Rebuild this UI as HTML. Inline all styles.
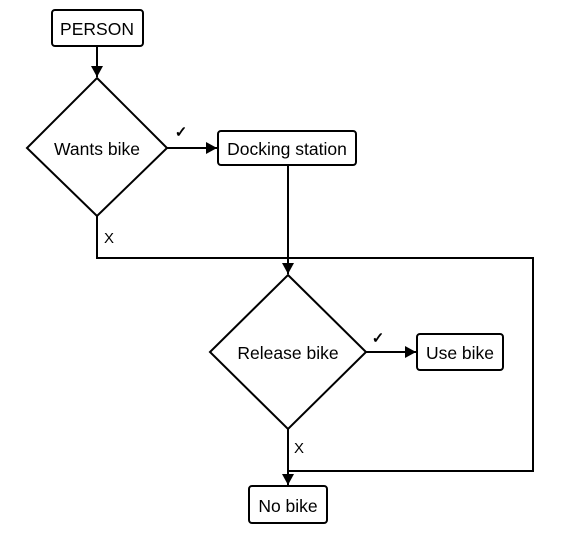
<!DOCTYPE html>
<html><head><style>body{margin:0;background:#fff}</style></head><body>
<svg width="588" height="543" xmlns="http://www.w3.org/2000/svg" font-family="Liberation Sans, sans-serif" font-size="17.5">
<defs><marker id="a" markerWidth="11" markerHeight="12" refX="11" refY="6" orient="auto" markerUnits="userSpaceOnUse"><path d="M0,0 L11,6 L0,12 z" fill="#000"/></marker></defs>
<g fill="#fff" stroke="#000" stroke-width="2">
<rect x="52" y="10" width="91" height="36" rx="3"/>
<polygon points="97,78 167,148 97,216 27,148"/>
<rect x="218" y="131" width="138" height="34" rx="3"/>
<polygon points="288,275 366,352 288,429 210,352"/>
<rect x="417" y="334" width="86" height="36" rx="3"/>
<rect x="249" y="486" width="78" height="37" rx="3"/>
</g>
<g fill="none" stroke="#000" stroke-width="2">
<line x1="97" y1="46" x2="97" y2="77" marker-end="url(#a)"/>
<line x1="167" y1="148" x2="217" y2="148" marker-end="url(#a)"/>
<line x1="288" y1="165" x2="288" y2="274" marker-end="url(#a)"/>
<polyline points="97,216 97,258 533,258 533,471 288,471"/>
<line x1="366" y1="352" x2="416" y2="352" marker-end="url(#a)"/>
<line x1="288" y1="429" x2="288" y2="485" marker-end="url(#a)"/>
</g>
<g fill="#000" text-anchor="middle">
<text x="97" y="35">PERSON</text>
<text x="97" y="155">Wants bike</text>
<text x="287" y="155">Docking station</text>
<text x="288" y="359">Release bike</text>
<text x="460" y="359">Use bike</text>
<text x="288" y="512">No bike</text>
<text x="181" y="137" font-size="15" font-weight="bold">✓</text>
<text x="378" y="343" font-size="15" font-weight="bold">✓</text>
<text x="109" y="243" font-size="15">X</text>
<text x="299" y="453" font-size="15">X</text>
</g>
</svg>
</body></html>
